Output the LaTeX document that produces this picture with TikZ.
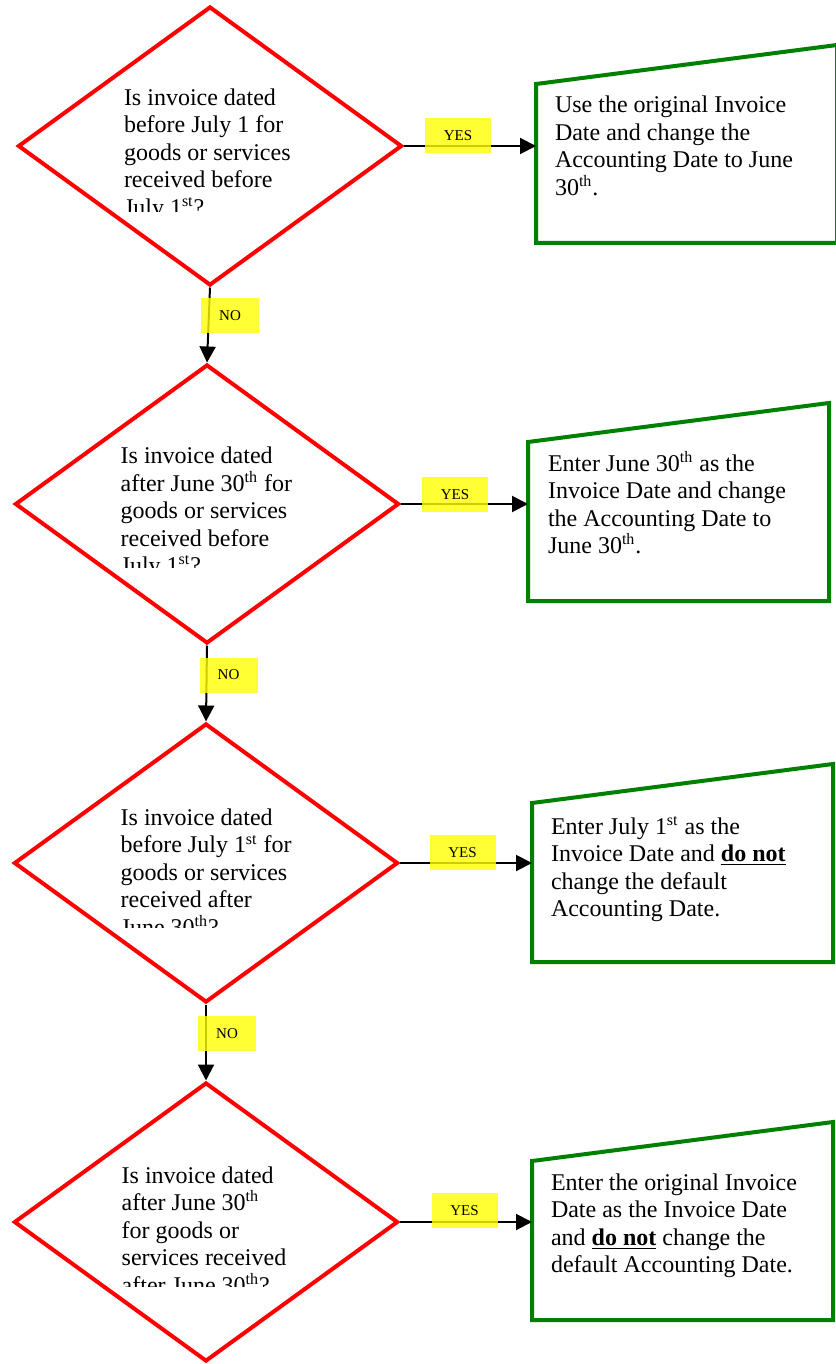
\documentclass[tikz,border=0pt]{standalone}
\usepackage{fontspec}
\setmainfont{Liberation Serif}
\usetikzlibrary{shapes.geometric,arrows.meta}
\definecolor{decred}{RGB}{255,0,0}
\definecolor{actgreen}{RGB}{0,128,0}
\definecolor{tagyellow}{RGB}{255,255,0}
% fixed height of the first line of every text block
\newcommand{\parastrut}{\rule{0pt}{11pt}}

\begin{document}
\begin{tikzpicture}[x=0.5pt,y=-0.5pt,
  decision/.style={diamond, draw=decred, line width=2pt, minimum width=192pt,
    minimum height=139.5pt, inner sep=0pt},
  para/.style={anchor=north west, align=left, inner sep=0pt, outer sep=0pt,
    font=\fontsize{12pt}{13.75pt}\selectfont},
  action/.style={rectangle, draw=none, minimum width=150.5pt, minimum height=79.5pt,
    anchor=north west, inner sep=0pt, outer sep=0pt},
  frame/.style={draw=actgreen, line width=2pt, line join=miter},
  flow/.style={draw=black, line width=1pt, -{Triangle[length=8pt,width=8pt]}},
  tag/.style={fill=tagyellow, fill opacity=0.8, text opacity=1, inner sep=0pt,
    minimum width=33pt, minimum height=17.5pt, font=\fontsize{7.5pt}{9pt}\selectfont}
]
\useasboundingbox (0,0) rectangle (835,1364);

% decision diamonds
\node[decision] (d1) at (210,146) {};
\node[decision] (d2) at (207,504) {};
\node[decision] (d3) at (206,863) {};
\node[decision] (d4) at (206,1222) {};

% question texts, cut off at the bottom of their text boxes
\begin{scope}
  \clip (100,60) rectangle (330,211.5);
  \node[para] (q1) at (124,83.3) {\parastrut Is invoice dated\\before July 1 for\\goods or services\\received before\\July 1\textsuperscript{st}?};
\end{scope}
\begin{scope}
  \clip (100,420) rectangle (330,567.3);
  \node[para] (q2) at (120.7,441.7) {\parastrut Is invoice dated\\after June 30\textsuperscript{th} for\\goods or services\\received before\\July 1\textsuperscript{st}?};
\end{scope}
\begin{scope}
  \clip (100,780) rectangle (330,927.3);
  \node[para] (q3) at (120.7,803.3) {\parastrut Is invoice dated\\before July 1\textsuperscript{st} for\\goods or services\\received after\\June 30\textsuperscript{th}?};
\end{scope}
\begin{scope}
  \clip (100,1140) rectangle (330,1286);
  \node[para] (q4) at (121.7,1161) {\parastrut Is invoice dated\\after June 30\textsuperscript{th}\\for goods or\\services received\\after June 30\textsuperscript{th}?};
\end{scope}

% action boxes (manual-input outline with slanted top)
\node[action] (b1) at (536,84) {};
\node[action] (b2) at (528,442) {};
\node[action] (b3) at (532,803) {};
\node[action] (b4) at (532,1161) {};
\foreach \b in {b1,b2,b3,b4}{
  \draw[frame] (\b.south west) -- (\b.north west) -- ([yshift=19.5pt]\b.north east)
    -- (\b.south east) -- cycle;
}

\node[para] (t1) at (555,91) {\parastrut Use the original Invoice\\Date and change the\\Accounting Date to June\\30\textsuperscript{th}.};
\node[para] (t2) at (548,449) {\parastrut Enter June 30\textsuperscript{th} as the\\Invoice Date and change\\the Accounting Date to\\June 30\textsuperscript{th}.};
\node[para] (t3) at (551,812) {\parastrut Enter July 1\textsuperscript{st} as the\\Invoice Date and \underline{\textbf{do not}}\\change the default\\Accounting Date.};
\node[para] (t4) at (551,1168) {\parastrut Enter the original Invoice\\Date as the Invoice Date\\and \underline{\textbf{do not}} change the\\default Accounting Date.};

% YES connectors
\draw[flow] (d1.east) -- (d1.east -| b1.west);
\draw[flow] (d2.east) -- (d2.east -| b2.west);
\draw[flow] (d3.east) -- (d3.east -| b3.west);
\draw[flow] (d4.east) -- (d4.east -| b4.west);

% NO connectors
\draw[flow] (d1.south) -- (d2.north);
\draw[flow] (d2.south) -- (d3.north);
\draw[flow] (d3.south) -- (d4.north);

% branch tags
\node[tag] (y1) at (458,135.5) {YES};
\node[tag] (y2) at (455,494.5) {YES};
\node[tag] (y3) at (462.5,852.5) {YES};
\node[tag] (y4) at (464.5,1210.5) {YES};
\node[tag, minimum width=29pt] (n1) at (230,315.5) {NO};
\node[tag, minimum width=29pt] (n2) at (228.5,675) {NO};
\node[tag, minimum width=29pt] (n3) at (227,1033.5) {NO};
\end{tikzpicture}
\end{document}
